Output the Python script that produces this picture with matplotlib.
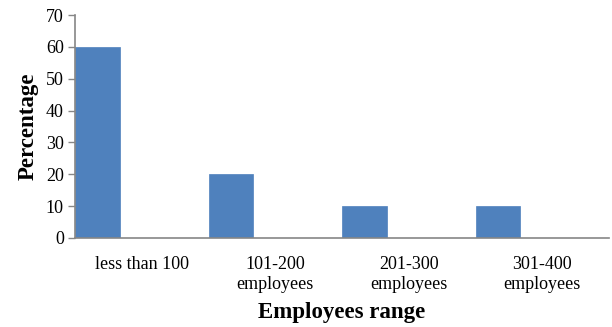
import numpy as np
import matplotlib.pyplot as plt

categories = ['less than 100', '101-200\nemployees', '201-300\nemployees', '301-400\nemployees']
percentages = [60, 20, 10, 10]

plt.rcParams['font.family'] = ['Liberation Serif', 'DejaVu Serif']

fig = plt.figure(figsize=(6.12, 3.27), dpi=100)
ax = fig.add_axes([75 / 612, 1 - 238 / 327, 534 / 612, 223 / 327])

xs = np.arange(len(categories))
ax.bar(xs, percentages, width=1 / 3, align='edge', color='#4F81BD', edgecolor='#4F81BD', linewidth=0.5)

ax.set_xlim(0, len(categories))
ax.set_ylim(0, 70)
ax.set_yticks(range(0, 71, 10))
ax.set_xticks(xs + 0.5)
ax.set_xticklabels(categories, fontsize=13, linespacing=1.2)
ax.tick_params(axis='x', length=0, pad=13)
ax.tick_params(axis='y', length=5, width=1, color='#868686', labelsize=13, pad=3)

for side in ['top', 'right']:
    ax.spines[side].set_visible(False)
for side in ['left', 'bottom']:
    ax.spines[side].set_color('#868686')
    ax.spines[side].set_linewidth(1.2)

ax.set_ylabel('Percentage', fontsize=16.5, fontweight='bold', labelpad=5)
ax.set_xlabel('Employees range', fontsize=16.5, fontweight='bold', labelpad=7)

fig.savefig('out.png', dpi=100)
